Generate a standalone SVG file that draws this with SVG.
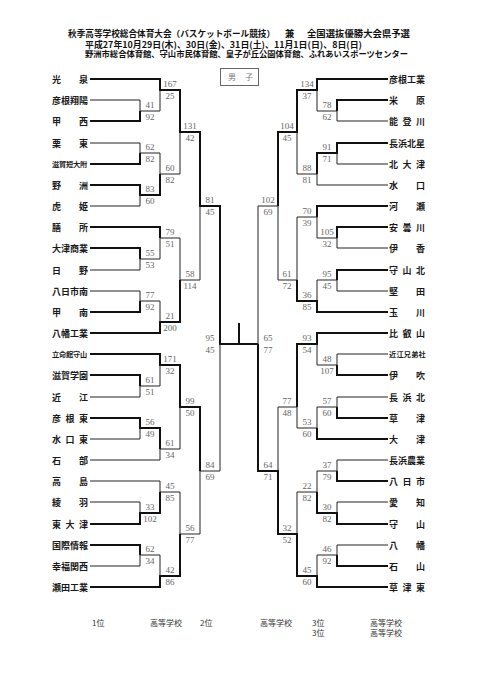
<svg xmlns="http://www.w3.org/2000/svg" width="481" height="680" viewBox="0 0 481 680">
<style>
.bg{fill:#fff}
.thk{fill:none;stroke:#111;stroke-width:2}
.thn{fill:none;stroke:#222;stroke-width:1}
.ttl{font-family:"Noto Sans CJK JP","Noto Sans",sans-serif;font-weight:bold;fill:#111}
.n{font-family:"Noto Sans CJK JP","Noto Sans",sans-serif;font-weight:bold;font-size:9px;fill:#1a1a1a}
.ns{font-family:"Noto Sans CJK JP","Noto Sans",sans-serif;font-weight:bold;font-size:7.2px;fill:#1a1a1a}
.s{font-family:"Liberation Serif","DejaVu Serif",serif;font-size:9px;fill:#666;text-anchor:middle}
.ft{font-family:"Noto Sans CJK JP","Noto Sans",sans-serif;font-size:8px;fill:#333}
.box{fill:none;stroke:#666;stroke-width:1}
.bx{font-family:"Noto Sans CJK JP",serif;font-size:8px;fill:#777}
</style>
<rect class="bg" x="0" y="0" width="481" height="680"/>
<g id="title">
<text class="ttl" font-size="8.7" x="68" y="36.5" textLength="207" lengthAdjust="spacingAndGlyphs">秋季高等学校総合体育大会（バスケットボール競技）</text>
<text class="ttl" font-size="9.4" x="285" y="36.5">兼</text>
<text class="ttl" font-size="9.4" x="307" y="36.5" textLength="103" lengthAdjust="spacingAndGlyphs">全国選抜優勝大会県予選</text>
<text class="ttl" font-size="8.6" x="85" y="47.5" textLength="277" lengthAdjust="spacingAndGlyphs">平成27年10月29日(木)、30日(金)、31日(土)、11月1日(日)、8日(日)</text>
<text class="ttl" font-size="8.3" x="85" y="57" textLength="323" lengthAdjust="spacingAndGlyphs">野洲市総合体育館、守山市民体育館、皇子が丘公園体育館、ふれあいスポーツセンター</text>
</g>
<g id="label-boys">
<rect class="box" x="220.5" y="68.5" width="38" height="17"/>
<text class="bx" x="228 245" y="80">男子</text>
</g>
<g id="connectors">
<path class="thk" d="M90,79H160V90H180V132H200V206H220V344H258 M90,121H140V111 M90,164H140V153 M90,185H140V195H160V174 M90,227H160V238 M90,248H140V259 M90,312H140V301 M90,333H160V322H180V280 M90,354H160V365H180V407H200V471 M90,375H140V386 M90,418H140V428H160V449 M90,524H140V513H160V492 M90,545H140V555 M90,587H160V576H180V534 M239,323V344"/>
<path class="thn" d="M90,100H140V111H160V90 M90,143H140V153H160V174H180V132 M90,206H140V195 M90,270H140V259H160V238H180V280H200V206 M90,291H140V301H160V322 M90,397H140V386H160V365 M90,439H140V428 M90,460H160V449H180V407 M90,481H160V492H180V534H200V471H220V344 M90,502H140V513 M90,566H140V555H160V576"/>
<path class="thk" d="M388,79H317V90H297V132H278V206 M388,100H337V111 M388,143H337V153H317V174 M388,206H317V217 M388,227H337V238 M388,270H337V280 M388,312H317V301H297V280 M388,333H317V344H297V407 M388,375H337V365 M388,418H337V407 M388,439H317V428 M388,481H337V471 M388,524H337V513H317V492 M388,566H337V555 M388,587H317V576H297V534H278V471H258V344"/>
<path class="thn" d="M388,121H337V111H317V90 M388,164H337V153 M388,185H317V174H297V132 M388,248H337V238H317V217H297V280H278V206H258V344 M388,291H337V280H317V301 M388,354H337V365H317V344 M388,397H337V407H317V428H297V407H278V471 M388,460H337V471H317V492H297V534 M388,502H337V513 M388,545H337V555H317V576"/>
</g>
<g id="scores">
<text class="s" x="150" y="108">41</text><text class="s" x="150" y="120">92</text>
<text class="s" x="170" y="87">167</text><text class="s" x="170" y="99">25</text>
<text class="s" x="150" y="150">62</text><text class="s" x="150" y="162">82</text>
<text class="s" x="150" y="192">83</text><text class="s" x="150" y="204">60</text>
<text class="s" x="170" y="171">60</text><text class="s" x="170" y="183">82</text>
<text class="s" x="190" y="129">131</text><text class="s" x="190" y="141">42</text>
<text class="s" x="150" y="256">55</text><text class="s" x="150" y="268">53</text>
<text class="s" x="170" y="235">79</text><text class="s" x="170" y="247">51</text>
<text class="s" x="150" y="298">77</text><text class="s" x="150" y="310">92</text>
<text class="s" x="170" y="319">21</text><text class="s" x="170" y="331">200</text>
<text class="s" x="190" y="277">58</text><text class="s" x="190" y="289">114</text>
<text class="s" x="210" y="203">81</text><text class="s" x="210" y="215">45</text>
<text class="s" x="150" y="383">61</text><text class="s" x="150" y="395">51</text>
<text class="s" x="170" y="362">171</text><text class="s" x="170" y="374">32</text>
<text class="s" x="150" y="425">56</text><text class="s" x="150" y="437">49</text>
<text class="s" x="170" y="446">61</text><text class="s" x="170" y="458">34</text>
<text class="s" x="190" y="404">99</text><text class="s" x="190" y="416">50</text>
<text class="s" x="150" y="510">33</text><text class="s" x="150" y="522">102</text>
<text class="s" x="170" y="489">45</text><text class="s" x="170" y="501">85</text>
<text class="s" x="150" y="552">62</text><text class="s" x="150" y="564">34</text>
<text class="s" x="170" y="573">42</text><text class="s" x="170" y="585">86</text>
<text class="s" x="190" y="531">56</text><text class="s" x="190" y="543">77</text>
<text class="s" x="210" y="468">84</text><text class="s" x="210" y="480">69</text>
<text class="s" x="210" y="341">95</text><text class="s" x="210" y="353">45</text>
<text class="s" x="327" y="108">78</text><text class="s" x="327" y="120">62</text>
<text class="s" x="307" y="87">134</text><text class="s" x="307" y="99">37</text>
<text class="s" x="327" y="150">91</text><text class="s" x="327" y="162">71</text>
<text class="s" x="307" y="171">88</text><text class="s" x="307" y="183">81</text>
<text class="s" x="287" y="129">104</text><text class="s" x="287" y="141">45</text>
<text class="s" x="327" y="235">105</text><text class="s" x="327" y="247">32</text>
<text class="s" x="307" y="214">70</text><text class="s" x="307" y="226">39</text>
<text class="s" x="327" y="277">95</text><text class="s" x="327" y="289">45</text>
<text class="s" x="307" y="298">36</text><text class="s" x="307" y="310">85</text>
<text class="s" x="287" y="277">61</text><text class="s" x="287" y="289">72</text>
<text class="s" x="268" y="203">102</text><text class="s" x="268" y="215">69</text>
<text class="s" x="327" y="362">48</text><text class="s" x="327" y="374">107</text>
<text class="s" x="307" y="341">93</text><text class="s" x="307" y="353">54</text>
<text class="s" x="327" y="404">57</text><text class="s" x="327" y="416">60</text>
<text class="s" x="307" y="425">53</text><text class="s" x="307" y="437">60</text>
<text class="s" x="287" y="404">77</text><text class="s" x="287" y="416">48</text>
<text class="s" x="327" y="468">37</text><text class="s" x="327" y="480">79</text>
<text class="s" x="327" y="510">30</text><text class="s" x="327" y="522">82</text>
<text class="s" x="307" y="489">22</text><text class="s" x="307" y="501">82</text>
<text class="s" x="327" y="552">46</text><text class="s" x="327" y="564">92</text>
<text class="s" x="307" y="573">45</text><text class="s" x="307" y="585">60</text>
<text class="s" x="287" y="531">32</text><text class="s" x="287" y="543">52</text>
<text class="s" x="268" y="468">64</text><text class="s" x="268" y="480">71</text>
<text class="s" x="268" y="341">65</text><text class="s" x="268" y="353">77</text>
</g>
<g id="team-kousen"><text class="n" x="52 79" y="82.5">光泉</text></g>
<g id="team-hikoneshouyou"><text class="n" x="52 61 70 79" y="103.5">彦根翔陽</text></g>
<g id="team-kousei"><text class="n" x="52 79" y="124.5">甲西</text></g>
<g id="team-rittou"><text class="n" x="52 79" y="146.5">栗東</text></g>
<g id="team-shigatandai"><text class="ns" x="52 59 66 73 80" y="166.8">滋賀短大附</text></g>
<g id="team-yasu"><text class="n" x="52 79" y="188.5">野洲</text></g>
<g id="team-torahime"><text class="n" x="52 79" y="209.5">虎姫</text></g>
<g id="team-zeze"><text class="n" x="52 79" y="230.5">膳所</text></g>
<g id="team-otsushougyou"><text class="n" x="52 61 70 79" y="251.5">大津商業</text></g>
<g id="team-hino"><text class="n" x="52 79" y="273.5">日野</text></g>
<g id="team-youkaichiminami"><text class="n" x="52 61 70 79" y="294.5">八日市南</text></g>
<g id="team-kounan"><text class="n" x="52 79" y="315.5">甲南</text></g>
<g id="team-hachimankougyou"><text class="n" x="52 61 70 79" y="336.5">八幡工業</text></g>
<g id="team-ritsumeikanmoriyama"><text class="ns" x="52 59 66 73 80" y="356.8">立命館守山</text></g>
<g id="team-shigagakuen"><text class="n" x="52 61 70 79" y="378.5">滋賀学園</text></g>
<g id="team-oumi"><text class="n" x="52 79" y="400.5">近江</text></g>
<g id="team-hikonehigashi"><text class="n" x="52 65.5 79" y="421.5">彦根東</text></g>
<g id="team-minakuchihigashi"><text class="n" x="52 65.5 79" y="442.5">水口東</text></g>
<g id="team-ishibe"><text class="n" x="52 79" y="463.5">石部</text></g>
<g id="team-takashima"><text class="n" x="52 79" y="484.5">高島</text></g>
<g id="team-ayaha"><text class="n" x="52 79" y="505.5">綾羽</text></g>
<g id="team-higashiotsu"><text class="n" x="52 65.5 79" y="527.5">東大津</text></g>
<g id="team-kokusaijouhou"><text class="n" x="52 61 70 79" y="548.5">国際情報</text></g>
<g id="team-koufukukansai"><text class="n" x="52 61 70 79" y="569.5">幸福関西</text></g>
<g id="team-setakougyou"><text class="n" x="52 61 70 79" y="590.5">瀬田工業</text></g>
<g id="team-hikonekougyou"><text class="n" x="389 398 407 416" y="82.5">彦根工業</text></g>
<g id="team-maibara"><text class="n" x="389 416" y="103.5">米原</text></g>
<g id="team-notogawa"><text class="n" x="389 402.5 416" y="124.5">能登川</text></g>
<g id="team-nagahamahokusei"><text class="n" x="389 398 407 416" y="146.5">長浜北星</text></g>
<g id="team-kitaotsu"><text class="n" x="389 402.5 416" y="167.5">北大津</text></g>
<g id="team-minakuchi"><text class="n" x="389 416" y="188.5">水口</text></g>
<g id="team-kawase"><text class="n" x="389 416" y="209.5">河瀬</text></g>
<g id="team-adogawa"><text class="n" x="389 402.5 416" y="230.5">安曇川</text></g>
<g id="team-ika"><text class="n" x="389 416" y="251.5">伊香</text></g>
<g id="team-moriyamakita"><text class="n" x="389 402.5 416" y="273.5">守山北</text></g>
<g id="team-katata"><text class="n" x="389 416" y="294.5">堅田</text></g>
<g id="team-tamagawa"><text class="n" x="389 416" y="315.5">玉川</text></g>
<g id="team-hieizan"><text class="n" x="389 402.5 416" y="336.5">比叡山</text></g>
<g id="team-oumikyoudaisha"><text class="ns" x="389 396.4 403.8 411.2 418.6" y="356.8">近江兄弟社</text></g>
<g id="team-ibuki"><text class="n" x="389 416" y="378.5">伊吹</text></g>
<g id="team-nagahamakita"><text class="n" x="389 402.5 416" y="400.5">長浜北</text></g>
<g id="team-kusatsu"><text class="n" x="389 416" y="421.5">草津</text></g>
<g id="team-otsu"><text class="n" x="389 416" y="442.5">大津</text></g>
<g id="team-nagahamanougyou"><text class="n" x="389 398 407 416" y="463.5">長浜農業</text></g>
<g id="team-youkaichi"><text class="n" x="389 402.5 416" y="484.5">八日市</text></g>
<g id="team-echi"><text class="n" x="389 416" y="505.5">愛知</text></g>
<g id="team-moriyama"><text class="n" x="389 416" y="527.5">守山</text></g>
<g id="team-hachiman"><text class="n" x="389 416" y="548.5">八幡</text></g>
<g id="team-ishiyama"><text class="n" x="389 416" y="569.5">石山</text></g>
<g id="team-kusatsuhigashi"><text class="n" x="389 402.5 416" y="590.5">草津東</text></g>
<g id="ranking">
<text class="ft" x="92" y="625.5">1位</text>
<text class="ft" x="150" y="625.5">高等学校</text>
<text class="ft" x="200" y="625.5">2位</text>
<text class="ft" x="260" y="625.5">高等学校</text>
<text class="ft" x="312" y="625.5">3位</text>
<text class="ft" x="370" y="625.5">高等学校</text>
<text class="ft" x="312" y="635.5">3位</text>
<text class="ft" x="370" y="635.5">高等学校</text>
</g>
</svg>
